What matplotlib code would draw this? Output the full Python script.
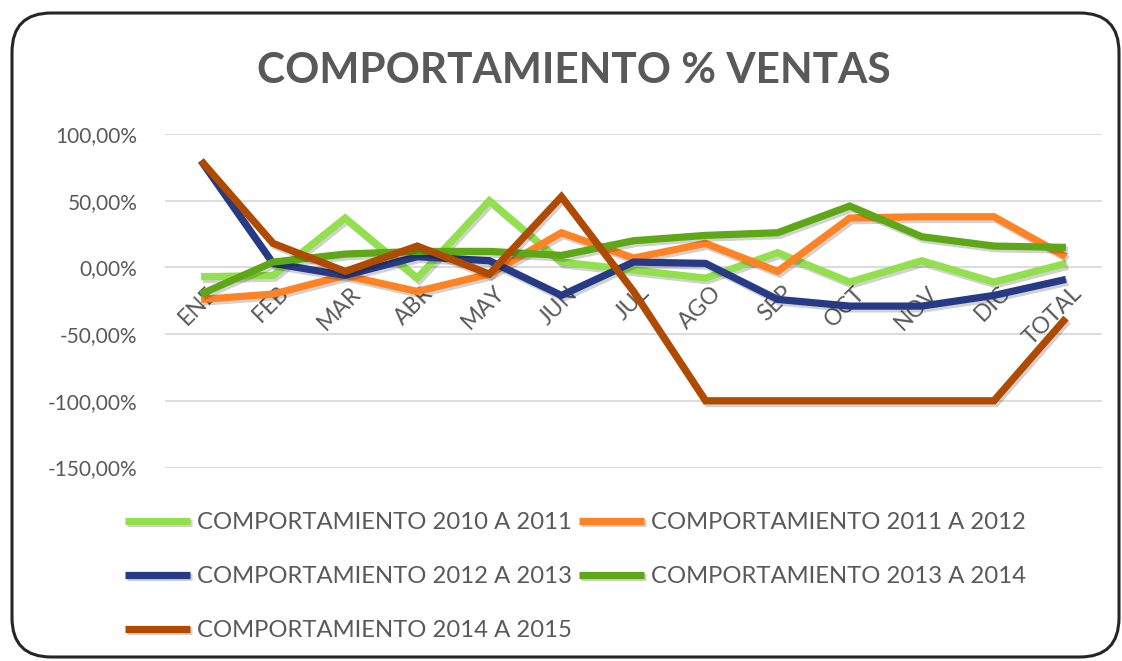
import matplotlib
matplotlib.use("Agg")
import matplotlib.pyplot as plt
import matplotlib.patheffects as pe
from matplotlib.patches import FancyBboxPatch
from matplotlib.ticker import FuncFormatter
import matplotlib.transforms as mtransforms

plt.rcParams["font.family"] = ["Lato", "DejaVu Sans"]

MONTHS = ["ENE", "FEB", "MAR", "ABR", "MAY", "JUN", "JUL",
          "AGO", "SEP", "OCT", "NOV", "DIC", "TOTAL"]

# values in %
V_2010_2011 = [-7, -6, 37, -8, 50, 4, -2, -8, 11, -11, 5, -11, 3]
V_2011_2012 = [-24, -20, -6, -18, -5, 26, 7, 18, -3, 37, 38, 38, 8]
V_2012_2013 = [80, 3, -6, 8, 5, -21, 4, 3, -24, -29, -29, -21, -9]
V_2013_2014 = [-20, 4, 10, 12, 12, 9, 20, 24, 26, 46, 23, 16, 15]
V_2014_2015 = [80, 18, -3, 16, -5, 53, -18, -100, -100, -100, -100, -100, -38]

SERIES = [
    ("COMPORTAMIENTO 2010 A 2011", V_2010_2011, "#92E04E"),
    ("COMPORTAMIENTO 2011 A 2012", V_2011_2012, "#FF8224"),
    ("COMPORTAMIENTO 2012 A 2013", V_2012_2013, "#263A85"),
    ("COMPORTAMIENTO 2013 A 2014", V_2013_2014, "#5EA716"),
    ("COMPORTAMIENTO 2014 A 2015", V_2014_2015, "#B04A00"),
]

TEXT = "#595959"
W, H = 1122, 661

fig = plt.figure(figsize=(W / 100, H / 100), dpi=100)

# rounded chart border
fig.patches.append(FancyBboxPatch((12 / W, 4 / H), 1107 / W, 644 / H,
                                  boxstyle="round,pad=0,rounding_size=0.035",
                                  transform=fig.transFigure, fill=False,
                                  edgecolor="#262626", linewidth=2.2,
                                  mutation_aspect=W / H))

ax = fig.add_axes([165 / W, 1 - 467.5 / H, (1102 - 165) / W, (467.5 - 134) / H])
x = list(range(len(MONTHS)))
lines = []
for i, (name, vals, col) in enumerate(SERIES):
    ln, = ax.plot(x, [v / 100 for v in vals], color=col, lw=5.2,
                  solid_joinstyle="miter", solid_capstyle="butt", zorder=3 + i,
                  path_effects=[pe.SimpleLineShadow(offset=(1.5, -2), alpha=0.18,
                                                    shadow_color="black"),
                                pe.Normal()])
    lines.append(ln)

ax.set_xlim(-0.5, len(MONTHS) - 0.5)
ax.set_ylim(-1.5, 1.0)
ax.set_yticks([-1.5, -1.0, -0.5, 0, 0.5, 1.0])
ax.yaxis.set_major_formatter(FuncFormatter(lambda v, p: f"{v * 100:.2f}%".replace(".", ",")))
ax.tick_params(axis="y", length=0, pad=20, labelsize=15, labelcolor=TEXT)
ax.set_xticks([])
ax.grid(axis="y", color="#D9D9D9", lw=1.3)
ax.set_axisbelow(True)
for s in ax.spines.values():
    s.set_visible(False)

# category labels sit at the 0 line (Excel axis crossing)
off = mtransforms.offset_copy(ax.transData, fig=fig, x=5, y=-15, units="dots")
for i, m in enumerate(MONTHS):
    ax.text(i, 0, m, rotation=45, ha="right", va="top", rotation_mode="anchor",
            fontsize=16.5, color=TEXT, transform=off, zorder=2)

fig.text(574 / W, 1 - 71 / H, "COMPORTAMIENTO % VENTAS", ha="center", va="center",
         fontsize=30.5, fontweight="bold", color=TEXT)

order = [0, 2, 4, 1, 3]
fig.legend([lines[k] for k in order], [SERIES[k][0] for k in order],
           ncol=2, loc="upper left", bbox_to_anchor=(125 / W, 1 - 512 / H),
           frameon=False, fontsize=17.2, labelcolor=TEXT, handlelength=2.72,
           handletextpad=0.3, columnspacing=0.3, labelspacing=1.38,
           borderpad=0, borderaxespad=0)

fig.savefig("out.png", dpi=100)
